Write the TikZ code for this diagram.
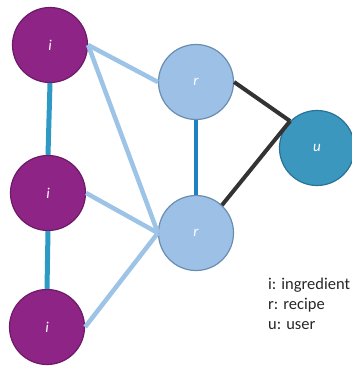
\documentclass[tikz,border=0pt]{standalone}
\usepackage{fontspec}
\setmainfont{Carlito}
\begin{document}
\begin{tikzpicture}[x=1pt,y=-1pt,
  vertex/.style={circle,minimum size=75pt,inner sep=0pt,line width=1.2pt,
    text=white,font=\itshape\fontsize{15}{15}\selectfont},
  ingr/.style={vertex,fill=ingfill,draw=ingline},
  reci/.style={vertex,fill=recfill,draw=recline},
  usr/.style={vertex,fill=usrfill,draw=usrline},
  light/.style={draw=lightedge,line width=4.5pt},
  chain/.style={draw=chainedge,line width=5pt},
  rchain/.style={draw=rchainedge,line width=4.5pt},
  dark/.style={draw=darkedge,line width=4pt},
  legend/.style={anchor=west,text=legendtext,font=\fontsize{16.5}{16.5}\selectfont,inner sep=0pt}]
\definecolor{ingfill}{HTML}{8E2486}
\definecolor{ingline}{HTML}{6E1A68}
\definecolor{recfill}{HTML}{9DC0E6}
\definecolor{recline}{HTML}{6A8DB0}
\definecolor{usrfill}{HTML}{3B97BE}
\definecolor{usrline}{HTML}{2A7397}
\definecolor{lightedge}{HTML}{9DC3E6}
\definecolor{chainedge}{HTML}{2E9AC4}
\definecolor{rchainedge}{HTML}{1F80C2}
\definecolor{darkedge}{HTML}{333333}
\definecolor{legendtext}{HTML}{262626}
\useasboundingbox (0,0) rectangle (352,366);

% ingredient, recipe and user vertices
\node[ingr] (i1) at (50,45) {i};
\node[ingr] (i2) at (48,193) {i};
\node[ingr] (i3) at (47,327) {i};
\node[reci] (r1) at (196,82) {r};
\node[reci] (r2) at (196,233) {r};
\node[usr]  (u)  at (317,148) {u};

% edges between the vertices
\path[chain] (i1.south) -- (i2.north);
\path[chain] (i2.south) -- (i3.north);
\path[rchain] (r1.south) -- (r2.north);
\path[light] (i1.east) -- (r1.west);
\path[light] (i1.east) -- (r2.west);
\path[light] (i2.east) -- (r2.west);
\path[light] (i3.east) -- (r2.west);
\path[dark] (r1.east) -- (u.135);
\path[dark] (r2.47) -- (u.135);

% legend
\node[legend] (l1) at (268,285) {i: ingredient};
\node[legend] (l2) at (268,305.5) {r: recipe};
\node[legend] (l3) at (268,326) {u: user};
\end{tikzpicture}
\end{document}
